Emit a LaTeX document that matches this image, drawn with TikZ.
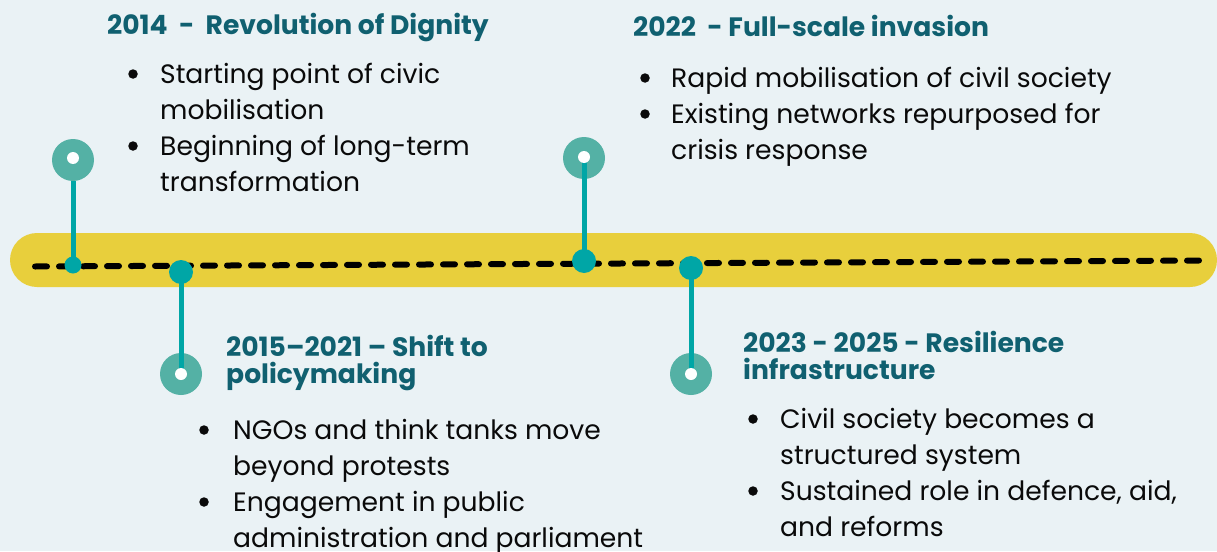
\documentclass[tikz,border=0pt]{standalone}
\usepackage{fontspec}
\setmainfont{Poppins}
\definecolor{bgc}{HTML}{EAF2F5}
\definecolor{bandc}{HTML}{E8CF3C}
\definecolor{stemc}{HTML}{00A6A6}
\definecolor{circc}{HTML}{54B1A5}
\definecolor{titlec}{HTML}{106070}
\definecolor{textc}{HTML}{0A0A0A}
\tikzset{
  bigdot/.style={circle,fill=circc,minimum size=42pt,inner sep=0pt},
  smalldot/.style={circle,fill=stemc,minimum size=24pt,inner sep=0pt},
  whitedot/.style={circle,fill=white,minimum size=12pt,inner sep=0pt},
  stem/.style={draw=stemc,line width=5pt},
  ttl/.style={anchor=base west,inner sep=0pt,text=titlec,font=\fontsize{26.6}{28}\selectfont\bfseries},
  txt/.style={anchor=base west,inner sep=0pt,text=textc,font=\fontsize{26.6}{36}\selectfont},
  bul/.style={circle,fill=textc,minimum size=9.5pt,inner sep=0pt},
  dashline/.style={line width=6pt,line cap=round,dash pattern=on 12pt off 12pt,draw=black}
}
\begin{document}
\begin{tikzpicture}[x=1pt,y=-1pt]
\useasboundingbox (0,0) rectangle (1217,551);
\fill[bgc] (0,0) rectangle (1217,551);
% band
\fill[bandc,rounded corners=27pt] (10,233) rectangle (1217,287);
\coordinate (ls) at (35,266.5);
\coordinate (le) at (1205,260.5);
\draw[dashline] (ls) -- (le);
% marker positions on the line
\coordinate (p14) at (73,265);
\coordinate (p15) at (181,272);
\coordinate (p22) at (584,261);
\coordinate (p23) at (691,268);
% big circles
\node[bigdot] (c14) at (73,160) {};
\node[bigdot] (c15) at (181,374) {};
\node[bigdot] (c22) at (584,158) {};
\node[bigdot] (c23) at (691,374) {};
% stems
\draw[stem] (c14.south) -- (p14);
\draw[stem] (p15) -- (c15.center);
\draw[stem] (c22.center) -- (p22);
\draw[stem] (p23) -- (c23.center);
% dots on the line
\node[smalldot,minimum size=17pt] (d14) at (p14) {};
\node[smalldot] (d15) at (p15) {};
\node[smalldot] (d22) at (p22) {};
\node[smalldot] (d23) at (p23) {};
% white centres
\node[whitedot] (w14) at (73,158) {};
\node[whitedot] (w15) at (181,374) {};
\node[whitedot] (w22) at (584,157) {};
\node[whitedot] (w23) at (691,374) {};
% 2014
\node[ttl] (h14) at (107,35) {2014\ \ -\ \ Revolution of Dignity};
\node[bul] (u14a) at (133,74) {};
\node[txt] (t14a) at (160,83) {Starting point of civic};
\node[txt] (t14b) at (160,119) {mobilisation};
\node[bul] (u14b) at (133,146) {};
\node[txt] (t14c) at (160,155) {Beginning of long-term};
\node[txt] (t14d) at (160,191) {transformation};
% 2022
\node[ttl] (h22) at (633,37) {2022\ \ - Full-scale invasion};
\node[bul] (u22a) at (645,78) {};
\node[txt] (t22a) at (671,87) {Rapid mobilisation of civil society};
\node[bul] (u22b) at (645,114) {};
\node[txt] (t22b) at (671,123) {Existing networks repurposed for};
\node[txt] (t22c) at (671,159) {crisis response};
% 2015-2021
\node[ttl] (h15a) at (226,356) {2015–2021 – Shift to};
\node[ttl] (h15b) at (226,383) {policymaking};
\node[bul] (u15a) at (204,430) {};
\node[txt] (t15a) at (233,439) {NGOs and think tanks move};
\node[txt] (t15b) at (233,475) {beyond protests};
\node[bul] (u15b) at (204,502) {};
\node[txt] (t15c) at (233,511) {Engagement in public};
\node[txt] (t15d) at (233,547) {administration and parliament};
% 2023-2025
\node[ttl] (h23a) at (743,352) {2023 - 2025 - Resilience};
\node[ttl] (h23b) at (743,379) {infrastructure};
\node[bul] (u23a) at (753,419) {};
\node[txt] (t23a) at (780,428) {Civil society becomes a};
\node[txt] (t23b) at (780,464) {structured system};
\node[bul] (u23b) at (753,491) {};
\node[txt] (t23c) at (780,500) {Sustained role in defence, aid,};
\node[txt] (t23d) at (780,536) {and reforms};
\end{tikzpicture}
\end{document}
